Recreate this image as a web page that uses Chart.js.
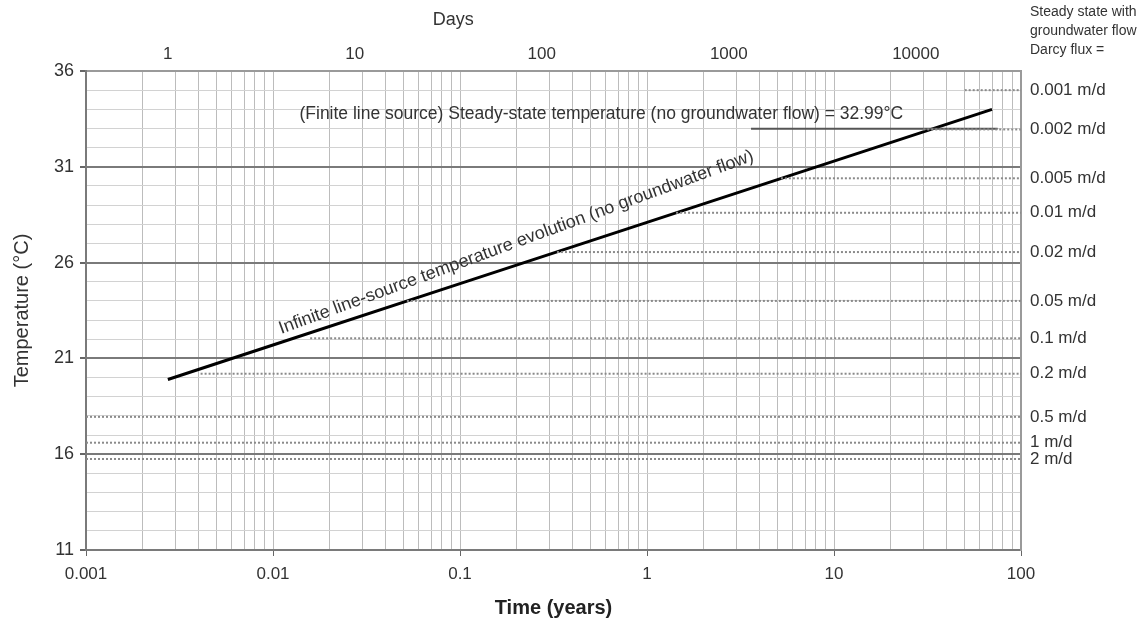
<!DOCTYPE html>
<html>
<head>
<meta charset="utf-8">
<script src="https://cdn.jsdelivr.net/npm/chart.js@4.4.0/dist/chart.umd.min.js"></script>
<style>
  html, body { margin: 0; padding: 0; background: #fff; }
  #wrap { width: 1144px; height: 632px; }
</style>
</head>
<body>
<div id="wrap"><canvas id="chart" width="1144" height="632"></canvas></div>
<script>
// bottom axis, time in years
var xDecades = [0.001, 0.01, 0.1, 1, 10, 100];
var xDecadeLabels = ['0.001', '0.01', '0.1', '1', '10', '100'];
// top axis, time in days
var dayTicks = [1, 10, 100, 1000, 10000];
var dayTickLabels = ['1', '10', '100', '1000', '10000'];
// temperature labels shown on the left axis
var tempLabelValues = [11, 16, 21, 26, 31, 36];

// infinite line source, no groundwater flow
var lineTime = [0.00274, 0.01, 0.1, 1, 10, 70];
var lineTemp = [19.9, 21.7, 24.9, 28.1, 31.3, 34.0];

// finite line source steady state (no groundwater flow)
var finiteTemp = 32.99;
var finiteTime = [3.6, 75];

// steady state with groundwater flow, per Darcy flux
var fluxLabels = ['0.001 m/d', '0.002 m/d', '0.005 m/d', '0.01 m/d', '0.02 m/d', '0.05 m/d',
                  '0.1 m/d', '0.2 m/d', '0.5 m/d', '1 m/d', '2 m/d'];
var fluxTemp = [35.0, 32.95, 30.4, 28.6, 26.55, 24.0, 22.05, 20.2, 17.95, 16.6, 15.75];
var fluxStart = [50, 30, 5.2, 1.43, 0.33, 0.052, 0.0158, 0.0041, 0.001, 0.001, 0.001];
var timeEnd = 100;

var finiteNote = '(Finite line source) Steady-state temperature (no groundwater flow) = 32.99\u00B0C';
var infiniteNote = 'Infinite line-source temperature evolution (no groundwater flow)';
var headerLines = ['Steady state with', 'groundwater flow', 'Darcy flux ='];
var daysTitle = 'Days';

var FONT = '"Liberation Sans", Arial, sans-serif';
Chart.defaults.font.family = FONT;
Chart.defaults.color = '#333';

function isDecade(v) {
  var l = Math.log10(v);
  return Math.abs(l - Math.round(l)) < 1e-6;
}

function logGrid(scale) {
  var t = [];
  for (var e = -3; e < 2; e++) {
    for (var m = 1; m < 10; m++) t.push({ value: m * Math.pow(10, e) });
  }
  t.push({ value: 100 });
  scale.ticks = t;
}

var datasets = [];
for (var i = 0; i < fluxTemp.length; i++) {
  datasets.push({
    label: fluxLabels[i],
    data: [{ x: fluxStart[i], y: fluxTemp[i] }, { x: timeEnd, y: fluxTemp[i] }],
    borderColor: '#8a8a8a',
    borderWidth: 2,
    borderDash: [2, 2],
    pointRadius: 0,
    showLine: true
  });
}
datasets.push({
  label: 'finite',
  data: finiteTime.map(function(t) { return { x: t, y: finiteTemp }; }),
  borderColor: '#555',
  borderWidth: 2,
  pointRadius: 0,
  showLine: true
});
datasets.push({
  label: 'infinite',
  data: lineTime.map(function(t, k) { return { x: t, y: lineTemp[k] }; }),
  borderColor: '#000',
  borderWidth: 3,
  pointRadius: 0,
  showLine: true
});

var notes = {
  id: 'notes',
  afterDatasetsDraw: function(chart) {
    var ctx = chart.ctx;
    var xs = chart.scales.x, ys = chart.scales.y, area = chart.chartArea;
    ctx.save();
    ctx.fillStyle = '#333';
    ctx.textAlign = 'center';
    ctx.textBaseline = 'middle';
    ctx.font = '17.5px ' + FONT;
    ctx.fillText(finiteNote, xs.getPixelForValue(0.57), ys.getPixelForValue(33.76));

    ctx.font = '18px ' + FONT;
    ctx.fillText(daysTitle, chart.scales.x2.getPixelForValue(33.6), 20);

    var n = lineTime.length - 1;
    var x0 = xs.getPixelForValue(lineTime[0]), y0 = ys.getPixelForValue(lineTemp[0]);
    var x1 = xs.getPixelForValue(lineTime[n]), y1 = ys.getPixelForValue(lineTemp[n]);
    ctx.translate(xs.getPixelForValue(0.2), ys.getPixelForValue(27.05));
    ctx.rotate(Math.atan2(y1 - y0, x1 - x0) - 0.035);
    ctx.fillText(infiniteNote, 0, 0);
    ctx.restore();

    ctx.save();
    ctx.fillStyle = '#333';
    ctx.font = '14px ' + FONT;
    ctx.textAlign = 'left';
    ctx.textBaseline = 'middle';
    for (var j = 0; j < headerLines.length; j++) {
      ctx.fillText(headerLines[j], area.right + 9, 12 + j * 19);
    }
    ctx.restore();
  }
};

new Chart(document.getElementById('chart'), {
  type: 'scatter',
  data: { datasets: datasets },
  plugins: [notes],
  options: {
    responsive: false,
    animation: false,
    layout: { padding: 0 },
    plugins: { legend: { display: false }, tooltip: { enabled: false } },
    scales: {
      x: {
        type: 'logarithmic',
        position: 'bottom',
        min: 0.001,
        max: 100,
        afterBuildTicks: logGrid,
        afterFit: function(s) { s.height = 82; },
        grid: {
          color: '#bcbcbc',
          lineWidth: 1,
          tickLength: 6,
          tickColor: function(c) { return c.tick && isDecade(c.tick.value) ? '#666' : 'rgba(0,0,0,0)'; }
        },
        border: { color: '#7a7a7a', width: 2 },
        ticks: {
          autoSkip: false,
          maxRotation: 0,
          padding: 8,
          font: { size: 17 },
          callback: function(v) {
            for (var k = 0; k < xDecades.length; k++) {
              if (Math.abs(Math.log10(v) - Math.log10(xDecades[k])) < 1e-6) return xDecadeLabels[k];
            }
            return '';
          }
        },
        title: {
          display: true,
          text: 'Time (years)',
          font: { size: 20, weight: 'bold' },
          color: '#222',
          padding: { top: 0, bottom: 12 }
        }
      },
      x2: {
        type: 'logarithmic',
        position: 'top',
        min: 0.001 * 365.25,
        max: 100 * 365.25,
        afterBuildTicks: function(s) { s.ticks = dayTicks.map(function(d) { return { value: d }; }); },
        afterFit: function(s) { s.height = 71; },
        grid: { display: false, drawTicks: false },
        border: { color: '#9a9a9a', width: 2 },
        ticks: {
          autoSkip: false,
          maxRotation: 0,
          padding: 6,
          font: { size: 17 },
          callback: function(v, i) { return dayTickLabels[i]; }
        }
      },
      y: {
        type: 'linear',
        position: 'left',
        min: 11,
        max: 36,
        afterFit: function(s) { s.width = 86; },
        grid: {
          color: function(c) { return c.tick && tempLabelValues.indexOf(c.tick.value) >= 0 ? '#7a7a7a' : '#d2d2d2'; },
          lineWidth: function(c) { return c.tick && tempLabelValues.indexOf(c.tick.value) >= 0 ? 2 : 1; },
          tickLength: 6,
          tickColor: function(c) { return c.tick && tempLabelValues.indexOf(c.tick.value) >= 0 ? '#666' : 'rgba(0,0,0,0)'; }
        },
        border: { color: '#7a7a7a', width: 2 },
        ticks: {
          stepSize: 1,
          autoSkip: false,
          padding: 6,
          font: { size: 18 },
          callback: function(v) { return tempLabelValues.indexOf(v) >= 0 ? String(v) : ''; }
        },
        title: {
          display: true,
          text: 'Temperature (\u00B0C)',
          font: { size: 20 },
          color: '#333',
          padding: { top: 10, bottom: 0 }
        }
      },
      y2: {
        type: 'linear',
        position: 'right',
        min: 11,
        max: 36,
        afterBuildTicks: function(s) { s.ticks = fluxTemp.map(function(t) { return { value: t }; }); },
        afterFit: function(s) { s.width = 123; },
        grid: { display: false, drawTicks: false },
        border: { color: '#9a9a9a', width: 2 },
        ticks: {
          autoSkip: false,
          padding: 9,
          font: { size: 17 },
          callback: function(v, i) { return fluxLabels[i]; }
        }
      }
    }
  }
});
</script>
</body>
</html>
